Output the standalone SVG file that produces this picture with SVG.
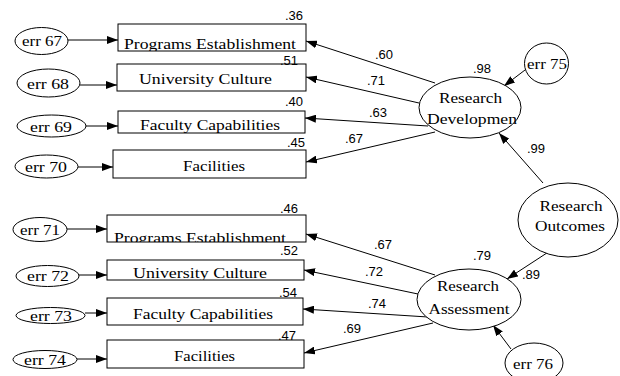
<svg xmlns="http://www.w3.org/2000/svg" width="620" height="376" viewBox="0 0 620 376">
<style>
.box{fill:#fff;stroke:#000;stroke-width:1}
.ell{fill:#fff;stroke:#000;stroke-width:1}
.t{font-family:"Liberation Serif","Times New Roman",serif;font-size:15px;fill:#000;text-anchor:middle}
.n{font-family:"Liberation Sans",Arial,sans-serif;font-size:13px;fill:#000}
.c{stroke:#000;stroke-width:1;fill:none;marker-end:url(#ah)}
</style>
<defs>
<marker id="ah" markerUnits="userSpaceOnUse" markerWidth="12" markerHeight="8" refX="11" refY="4" orient="auto"><path d="M0,0 L11,4 L0,8 z" fill="#000"/></marker>
<clipPath id="c1"><rect x="118" y="24" width="188" height="27"/></clipPath>
<clipPath id="c2"><rect x="117" y="64" width="189" height="27"/></clipPath>
<clipPath id="c3"><rect x="118" y="111" width="187" height="22"/></clipPath>
<clipPath id="c4"><rect x="113" y="150" width="193" height="28"/></clipPath>
<clipPath id="c5"><rect x="107" y="215" width="199" height="27"/></clipPath>
<clipPath id="c6"><rect x="107" y="260" width="197" height="20"/></clipPath>
<clipPath id="c7"><rect x="107" y="298" width="196" height="27"/></clipPath>
<clipPath id="c8"><rect x="107" y="340" width="197" height="28"/></clipPath>
</defs>
<g id="connectors">
<line class="c" x1="68" y1="40" x2="118" y2="40"/>
<line class="c" x1="80" y1="85" x2="117" y2="85"/>
<line class="c" x1="86" y1="126" x2="118" y2="126"/>
<line class="c" x1="78" y1="167" x2="113" y2="167"/>
<line class="c" x1="67" y1="229" x2="107" y2="229"/>
<line class="c" x1="79" y1="275" x2="107" y2="275"/>
<line class="c" x1="85" y1="313" x2="107" y2="313"/>
<line class="c" x1="77" y1="359" x2="107" y2="359"/>
<line class="c" x1="435" y1="83" x2="306" y2="41"/>
<line class="c" x1="419" y1="103" x2="306" y2="77"/>
<line class="c" x1="428" y1="126" x2="305" y2="118"/>
<line class="c" x1="435" y1="132" x2="306" y2="162"/>
<line class="c" x1="525" y1="70" x2="504" y2="86"/>
<line class="c" x1="543" y1="183" x2="499" y2="133"/>
<line class="c" x1="435" y1="275" x2="306" y2="234"/>
<line class="c" x1="418" y1="294" x2="304" y2="270"/>
<line class="c" x1="428" y1="317" x2="303" y2="309"/>
<line class="c" x1="433" y1="323" x2="304" y2="353"/>
<line class="c" x1="553" y1="249" x2="507" y2="279"/>
<line class="c" x1="511" y1="349" x2="493" y2="325"/>
</g>
<g id="err67"><ellipse class="ell" cx="41.5" cy="41" rx="26.5" ry="13.5"/><text class="t" x="42" y="46" textLength="40" lengthAdjust="spacingAndGlyphs">err 67</text></g>
<g id="err68"><ellipse class="ell" cx="48.5" cy="83" rx="31.5" ry="14"/><text class="t" x="48" y="89" textLength="42" lengthAdjust="spacingAndGlyphs">err 68</text></g>
<g id="err69"><ellipse class="ell" cx="51.5" cy="126" rx="34.5" ry="11"/><text class="t" x="51" y="132" textLength="42" lengthAdjust="spacingAndGlyphs">err 69</text></g>
<g id="err70"><ellipse class="ell" cx="46.5" cy="166.5" rx="31.5" ry="11.5"/><text class="t" x="46" y="172" textLength="42" lengthAdjust="spacingAndGlyphs">err 70</text></g>
<g id="err71"><ellipse class="ell" cx="40" cy="229.5" rx="27" ry="12"/><text class="t" x="40" y="235" textLength="40" lengthAdjust="spacingAndGlyphs">err 71</text></g>
<g id="err72"><ellipse class="ell" cx="47.5" cy="276" rx="31.5" ry="10.5"/><text class="t" x="48" y="281" textLength="42" lengthAdjust="spacingAndGlyphs">err 72</text></g>
<g id="err73"><ellipse class="ell" cx="50.5" cy="315.5" rx="34.5" ry="8"/><text class="t" x="51" y="321" textLength="42" lengthAdjust="spacingAndGlyphs">err 73</text></g>
<g id="err74"><ellipse class="ell" cx="45" cy="359.5" rx="32" ry="9"/><text class="t" x="45" y="365" textLength="42" lengthAdjust="spacingAndGlyphs">err 74</text></g>
<g id="box1"><rect class="box" x="118" y="24" width="188" height="27"/><text class="t" x="210" y="49" clip-path="url(#c1)" textLength="172" lengthAdjust="spacingAndGlyphs">Programs Establishment</text><text class="n" x="285" y="20">.36</text></g>
<g id="box2"><rect class="box" x="117" y="64" width="189" height="27"/><text class="t" x="205.5" y="84" clip-path="url(#c2)" textLength="133" lengthAdjust="spacingAndGlyphs">University Culture</text><text class="n" x="280" y="65">.51</text></g>
<g id="box3"><rect class="box" x="118" y="111" width="187" height="22"/><text class="t" x="210" y="130" clip-path="url(#c3)" textLength="140" lengthAdjust="spacingAndGlyphs">Faculty Capabilities</text><text class="n" x="285" y="106">.40</text></g>
<g id="box4"><rect class="box" x="113" y="150" width="193" height="28"/><text class="t" x="214" y="171" clip-path="url(#c4)" textLength="62" lengthAdjust="spacingAndGlyphs">Facilities</text><text class="n" x="287" y="147">.45</text></g>
<g id="box5"><rect class="box" x="107" y="215" width="199" height="27"/><text class="t" x="200" y="243" clip-path="url(#c5)" textLength="172" lengthAdjust="spacingAndGlyphs">Programs Establishment</text><text class="n" x="280" y="213">.46</text></g>
<g id="box6"><rect class="box" x="107" y="260" width="197" height="20"/><text class="t" x="200" y="278" clip-path="url(#c6)" textLength="134" lengthAdjust="spacingAndGlyphs">University Culture</text><text class="n" x="280" y="255">.52</text></g>
<g id="box7"><rect class="box" x="107" y="298" width="196" height="27"/><text class="t" x="203" y="319" clip-path="url(#c7)" textLength="140" lengthAdjust="spacingAndGlyphs">Faculty Capabilities</text><text class="n" x="279" y="297">.54</text></g>
<g id="box8"><rect class="box" x="107" y="340" width="197" height="28"/><text class="t" x="204.5" y="361" clip-path="url(#c8)" textLength="61" lengthAdjust="spacingAndGlyphs">Facilities</text><text class="n" x="278" y="340">.47</text></g>
<g id="rd"><ellipse class="ell" cx="470" cy="107.5" rx="51" ry="30.5"/><text class="t" x="470.5" y="103" textLength="63" lengthAdjust="spacingAndGlyphs">Research</text><text class="t" x="472" y="124" textLength="90" lengthAdjust="spacingAndGlyphs">Developmen</text><text class="n" x="473" y="73">.98</text></g>
<g id="err75"><ellipse class="ell" cx="546.5" cy="63.5" rx="22" ry="20.5"/><text class="t" x="547" y="69" textLength="40" lengthAdjust="spacingAndGlyphs">err 75</text></g>
<g id="ro"><ellipse class="ell" cx="568" cy="220" rx="50" ry="37"/><text class="t" x="571" y="211" textLength="63" lengthAdjust="spacingAndGlyphs">Research</text><text class="t" x="570" y="231" textLength="70" lengthAdjust="spacingAndGlyphs">Outcomes</text></g>
<g id="ra"><ellipse class="ell" cx="469" cy="299.5" rx="52" ry="30.5"/><text class="t" x="468" y="291" textLength="62" lengthAdjust="spacingAndGlyphs">Research</text><text class="t" x="469" y="314" textLength="81" lengthAdjust="spacingAndGlyphs">Assessment</text><text class="n" x="473" y="260">.79</text></g>
<g id="err76"><ellipse class="ell" cx="534" cy="363" rx="29" ry="20"/><text class="t" x="533" y="369" textLength="40" lengthAdjust="spacingAndGlyphs">err 76</text></g>
<g id="labels">
<text class="n" x="375" y="59">.60</text>
<text class="n" x="367" y="85">.71</text>
<text class="n" x="369" y="117">.63</text>
<text class="n" x="345" y="143">.67</text>
<text class="n" x="527" y="153">.99</text>
<text class="n" x="374" y="249">.67</text>
<text class="n" x="365" y="276">.72</text>
<text class="n" x="368" y="308">.74</text>
<text class="n" x="343" y="333">.69</text>
<text class="n" x="522" y="279">.89</text>
</g>
</svg>
